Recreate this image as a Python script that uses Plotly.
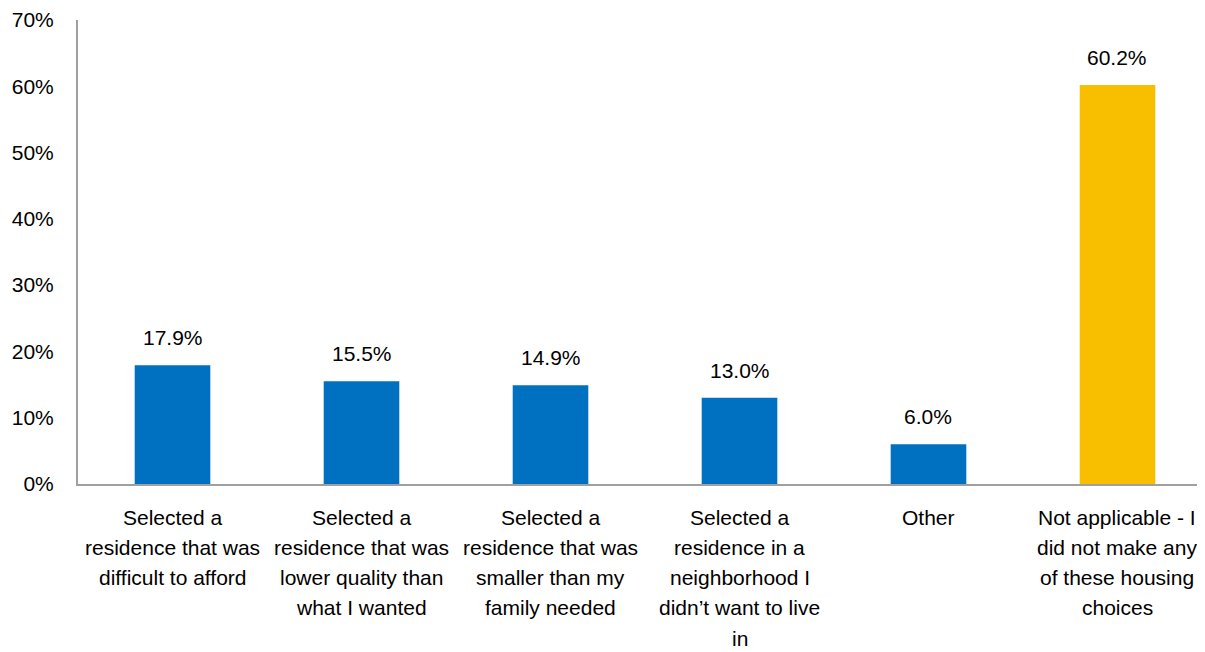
import plotly.graph_objects as go

categories = [
    "Selected a<br>residence that was<br>difficult to afford",
    "Selected a<br>residence that was<br>lower quality than<br>what I wanted",
    "Selected a<br>residence that was<br>smaller than my<br>family needed",
    "Selected a<br>residence in a<br>neighborhood I<br>didn’t want to live<br>in",
    "Other",
    "Not applicable - I<br>did not make any<br>of these housing<br>choices",
]
values = [17.9, 15.5, 14.9, 13.0, 6.0, 60.2]
labels = ["17.9%", "15.5%", "14.9%", "13.0%", "6.0%", "60.2%"]
colors = ["#0070C0"] * 5 + ["#F8BE00"]
yticks = [0, 10, 20, 30, 40, 50, 60, 70]
yticklabels = ["0%", "10%", "20%", "30%", "40%", "50%", "60%", "70%"]

FONT = "Liberation Sans, Arial, sans-serif"
FS = 21

fig = go.Figure()
fig.add_trace(go.Bar(
    x=list(range(len(categories))), y=values,
    marker=dict(color=colors, line=dict(width=0)),
    width=0.4,
))
for i, (v, t) in enumerate(zip(values, labels)):
    fig.add_annotation(x=i, y=v, text=t, showarrow=False, yanchor="bottom",
                       yshift=14, font=dict(family=FONT, size=FS, color="#000000"))
# category labels (one annotation per line for Excel-like line spacing)
for i, cat in enumerate(categories):
    for k, line in enumerate(cat.split("<br>")):
        fig.add_annotation(x=i, y=0, text=line, showarrow=False, yanchor="middle",
                           xanchor="center", yshift=-(33 + k * 30.3),
                           font=dict(family=FONT, size=FS, color="#000000"))

fig.update_layout(
    width=1197, height=644,
    margin=dict(l=70, r=0, t=12, b=168),
    plot_bgcolor="white", paper_bgcolor="white",
    font=dict(family=FONT, size=FS, color="#000000"),
    showlegend=False,
)
fig.update_xaxes(
    range=[-0.5, 5.463], showline=True, linecolor="#A0A0A0", linewidth=2,
    ticks="", showgrid=False, zeroline=False, showticklabels=False,
    automargin=False,
)
fig.update_yaxes(
    range=[0, 70], tickmode="array", tickvals=yticks, ticktext=yticklabels,
    showline=True, linecolor="#A0A0A0", linewidth=2, ticks="",
    showgrid=False, zeroline=False, ticklabelstandoff=18, automargin=False,
)
fig.write_html("out.html")
